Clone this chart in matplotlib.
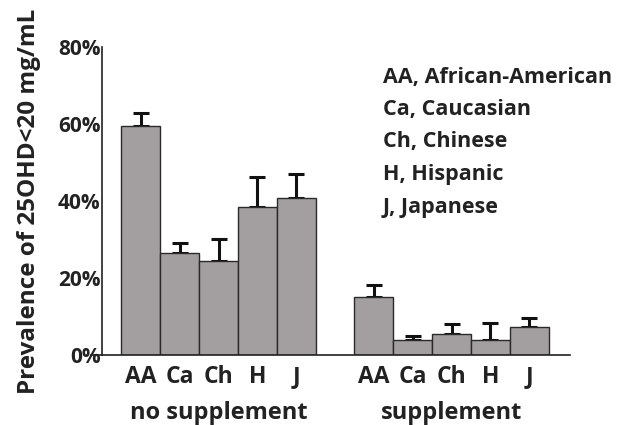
import matplotlib
matplotlib.use("Agg")
import matplotlib.pyplot as plt
import matplotlib.transforms as mtransforms
import numpy as np

categories = ["AA", "Ca", "Ch", "H", "J"]
groups = ["no supplement", "supplement"]
no_supp = [59.5, 26.6, 24.5, 38.4, 40.8]
no_supp_err = [3.4, 2.4, 5.6, 7.9, 6.1]
supp = [15.0, 3.8, 5.45, 3.8, 7.2]
supp_err = [3.2, 1.1, 2.55, 4.4, 2.3]
legend_lines = ["AA, African-American", "Ca, Caucasian", "Ch, Chinese",
                "H, Hispanic", "J, Japanese"]
yticks = [0, 20, 40, 60, 80]

plt.rcParams['font.family'] = ['Open Sans', 'DejaVu Sans']
txt = '#222222'
fw = 'bold'

fig = plt.figure(figsize=(6.19, 4.25), dpi=100)
ax = fig.add_axes([102/619, 1-355/425, (570-102)/619, (355-47)/425])

x1 = np.arange(len(categories))
x2 = x1 + len(categories) + 1
vals = no_supp + supp
errs = no_supp_err + supp_err
xs = np.concatenate([x1, x2])
ax.bar(xs, vals, width=1.0, color='#a39e9f', edgecolor='#2a2a2a', linewidth=1.0, zorder=2)
ax.errorbar(xs, vals, yerr=[np.zeros(len(vals)), errs], fmt='none', ecolor='#111111',
            elinewidth=2.2, capsize=5.5, capthick=2.2, zorder=1)

ax.set_xlim(-1, 11.05)
ax.set_ylim(0, 80)
ax.set_yticks(yticks)
ax.set_yticklabels([f"{v}%" for v in yticks], fontsize=15, fontweight=fw, color=txt)
ax.tick_params(axis='y', length=0, pad=1)
ax.set_xticks(xs)
ax.set_xticklabels(categories * 2, fontsize=16.5, fontweight=fw, color=txt)
ax.tick_params(axis='x', length=0, pad=7)
for s in ['top', 'right']:
    ax.spines[s].set_visible(False)
for s in ['left', 'bottom']:
    ax.spines[s].set_linewidth(1.2)
    ax.spines[s].set_color('#222222')
ax.plot([-1.28, -1], [0, 0], color='#222222', lw=1.2, clip_on=False)

ax.set_ylabel("Prevalence of 25OHD<20 mg/mL", fontsize=17.5, fontweight=fw, color=txt, labelpad=12)

trans = mtransforms.blended_transform_factory(ax.transData, fig.transFigure)
for g, xc in zip(groups, [x1.mean(), x2.mean()]):
    fig.text(xc, 1 - 413/425, g, ha='center', va='center', fontsize=17, fontweight=fw,
             color=txt, transform=trans)

for i, line in enumerate(legend_lines):
    fig.text(383/619, 1 - (77 + 32.5*i)/425, line, ha='left', va='center',
             fontsize=15.5, fontweight=fw, color=txt)

fig.savefig("out.png", dpi=100)
